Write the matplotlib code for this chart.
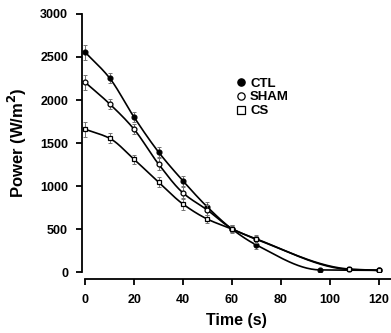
import numpy as np
import matplotlib
matplotlib.use("Agg")
from matplotlib import pyplot as plt

plt.rcParams['font.family'] = ['Liberation Sans', 'DejaVu Sans']
plt.rcParams['font.weight'] = 'bold'

# Datos
t_ctl = [0, 10, 20, 30, 40, 50, 60, 70, 96, 120]
p_ctl = [2555, 2255, 1800, 1395, 1060, 755, 500, 315, 25, 20]
e_ctl = [90, 60, 60, 60, 60, 60, 50, 50, 0, 0]

t_sham = [0, 10, 20, 30, 40, 50, 60, 70, 108, 120]
p_sham = [2205, 1955, 1660, 1255, 920, 720, 505, 385, 30, 20]
e_sham = [90, 60, 60, 70, 70, 60, 40, 50, 0, 0]

t_cs = [0, 10, 20, 30, 40, 50, 60, 70, 108, 120]
p_cs = [1660, 1555, 1310, 1045, 790, 615, 500, 380, 35, 20]
e_cs = [90, 60, 50, 60, 70, 50, 40, 40, 0, 0]

series = [
    ("CTL", t_ctl, p_ctl, e_ctl, 'o', 'black'),
    ("SHAM", t_sham, p_sham, e_sham, 'o', 'white'),
    ("CS", t_cs, p_cs, e_cs, 's', 'white'),
]


# Curva suave (Hermite monótona) solo para dibujar la línea entre puntos
def suave(x, y, n=30):
    x = np.asarray(x, float)
    y = np.asarray(y, float)
    h = np.diff(x)
    d = np.diff(y) / h
    m = np.zeros_like(y)
    m[0], m[-1] = d[0], d[-1]
    for i in range(1, len(y) - 1):
        if d[i - 1] * d[i] > 0:
            w1 = 2 * h[i] + h[i - 1]
            w2 = h[i] + 2 * h[i - 1]
            m[i] = (w1 + w2) / (w1 / d[i - 1] + w2 / d[i])
    xs, ys = [], []
    for i in range(len(x) - 1):
        s = np.linspace(0, 1, n)
        h00 = 2*s**3 - 3*s**2 + 1
        h10 = s**3 - 2*s**2 + s
        h01 = -2*s**3 + 3*s**2
        h11 = s**3 - s**2
        xs.append(x[i] + s*h[i])
        ys.append(h00*y[i] + h10*h[i]*m[i] + h01*y[i+1] + h11*h[i]*m[i+1])
    return np.concatenate(xs), np.concatenate(ys)


fig = plt.figure(figsize=(3.91, 3.33), dpi=100)
ax = fig.add_axes([0.2097, 0.183, 0.79, 0.775])

for nombre, t, p, e, mk, fc in series:
    xs, ys = suave(t, p)
    ax.plot(xs, ys, color='black', lw=1.2)
    ax.errorbar(t, p, yerr=e, fmt='none', ecolor='0.45', elinewidth=0.7,
                capsize=1.2, capthick=0.7, linestyle=':')
    ax.plot(t, p, mk, markersize=3.5, markerfacecolor=fc,
            markeredgecolor='black', markeredgewidth=0.9, label=nombre)

ax.set_xlim(-1.3, 125)
ax.set_ylim(0, 3000)
ax.set_xticks([0, 20, 40, 60, 80, 100, 120])
ax.set_yticks([0, 500, 1000, 1500, 2000, 2500, 3000])

ax.spines['top'].set_visible(False)
ax.spines['right'].set_visible(False)
ax.spines['left'].set_linewidth(1.3)
ax.spines['bottom'].set_linewidth(1.3)
ax.spines['bottom'].set_position(('outward', 5))
ax.spines['bottom'].set_bounds(0, 125)
ax.tick_params(direction='out', length=4, width=1.3, labelsize=9)
ax.tick_params(axis='y', pad=6)
ax.tick_params(axis='x', pad=7)

ax.set_xlabel("Time (s)", fontsize=11.5, fontweight='bold', labelpad=5)
ax.set_ylabel("Power (W/m$^2$)", fontsize=12, fontweight='bold', labelpad=8)

ax.legend(loc='upper left', bbox_to_anchor=(0.48, 0.78), frameon=False,
          handlelength=0.6, handletextpad=0.4, labelspacing=0.12,
          borderpad=0, markerscale=1.5, prop={'weight': 'bold', 'size': 9.5})

fig.savefig("out.png", dpi=100)
